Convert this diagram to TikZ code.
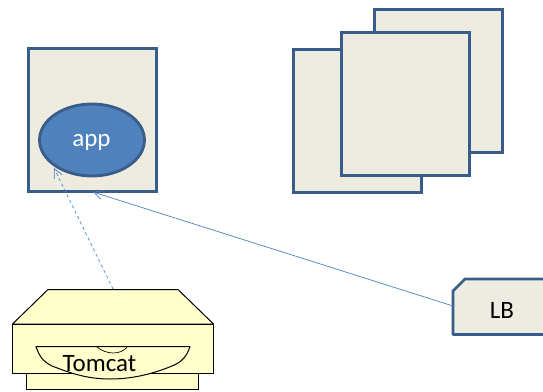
\documentclass[tikz,border=0pt]{standalone}
\usepackage{fontspec}
\setmainfont{Carlito}
\usetikzlibrary{arrows.meta,shapes.geometric}
\definecolor{boxfill}{HTML}{EEECE1}
\definecolor{boxline}{HTML}{385D8A}
\definecolor{appfill}{HTML}{4F81BD}
\definecolor{tomfill}{HTML}{FFFFCC}
\tikzset{
  x=1pt,y=-1pt,
  panel/.style={rectangle,draw=boxline,fill=boxfill,line width=2.8pt,minimum width=128pt,minimum height=143pt,inner sep=0pt,anchor=north west},
  tomline/.style={draw=black,fill=tomfill,line width=1pt,line join=round},
  conn/.style={draw=appfill,line width=.7pt,-{Straight Barb[length=9pt,width=9pt,line width=.7pt]}},
  biglabel/.style={font=\fontsize{25}{28}\selectfont,inner sep=0pt},
}
\begin{document}
\begin{tikzpicture}
\useasboundingbox (0,0) rectangle (543,391);
\node[panel] (stackc) at (373,8) {};
\node[panel] (stackb) at (292,48) {};
\node[panel] (stacka) at (340,31) {};
\node[panel] (host) at (27,47) {};
\node[ellipse,draw=boxline,fill=appfill,line width=2.8pt,minimum width=105pt,minimum height=72pt,inner sep=0pt] (app) at (92,140) {};
\node[biglabel,text=white] (applabel) at (91.5,142) {app};
% LB
\begin{scope}
\clip (440,270) rectangle (543,345);
\draw[draw=boxline,fill=boxfill,line width=2.8pt,line join=round] (453,291) -- (465,279) -- (545,279) -- (560,291) -- (560,334.5) -- (453,334.5) -- cycle;
\end{scope}
\node[biglabel] (lb) at (502,310) {LB};
\coordinate (lbl) at (453,306);
% Tomcat
\draw[tomline] (26,373) rectangle (198.5,389);
\draw[tomline] (12.5,324) -- (48,289.5) -- (178,289.5) -- (213.5,324) -- cycle;
\draw[tomline] (12.5,324) rectangle (213.5,373);
\draw[tomline] (36,346.5) -- (190,346.5) .. controls (187,356) and (182,362) .. (172,366) .. controls (150,375) and (130,379) .. (110,379) .. controls (85,379) and (68,372) .. (52,366) .. controls (42,361) and (39,355) .. (36,346.5) -- cycle;
\draw[black,line width=.7pt] (97,347) .. controls (102,351) and (108,353) .. (113,353) .. controls (119,353) and (124,351) .. (127,347);
\node[biglabel,text=black] (tom) at (99.5,364) {Tomcat};
\coordinate (tomtop) at (113,289);
\coordinate (apptip) at (54,168);
\coordinate (hosttip) at (93,192);
\draw[conn,dashed] (tomtop) -- (apptip);
\draw[conn] (lbl) -- (hosttip);
\end{tikzpicture}
\end{document}
